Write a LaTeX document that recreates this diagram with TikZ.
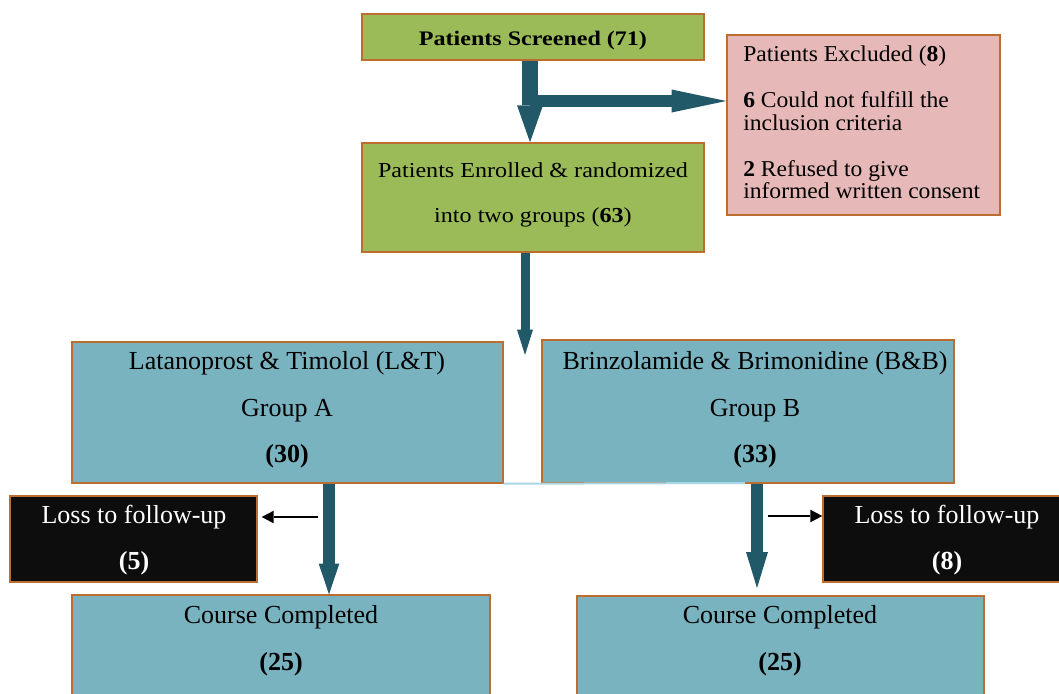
\documentclass[tikz,border=0pt]{standalone}
\usepackage{fontspec}
\setmainfont{Liberation Serif}
\usetikzlibrary{arrows.meta,fit}
\definecolor{bord}{HTML}{BC6E30}
\definecolor{grn}{HTML}{9BBB59}
\definecolor{pnk}{HTML}{E6B9B8}
\definecolor{tealbox}{HTML}{79B3BF}
\definecolor{darkteal}{HTML}{215968}
\definecolor{lblue}{HTML}{A9D6E3}
\definecolor{nearblack}{HTML}{0D0D0D}
\begin{document}
\begin{tikzpicture}[x=0.75pt,y=-0.75pt,
  box/.style={draw=bord,line width=1.1pt,rectangle,inner sep=0pt},
  greenbox/.style={box,fill=grn},
  pinkbox/.style={box,fill=pnk},
  bluebox/.style={box,fill=tealbox},
  blackbox/.style={box,fill=nearblack},
  txt/.style={inner sep=0pt,anchor=base,font=\fontsize{19.5}{22}\selectfont},
  toptxt/.style={inner sep=0pt,anchor=base,font=\fontsize{16}{18}\selectfont,xscale=1.13},
  extxt/.style={inner sep=0pt,anchor=base west,font=\fontsize{17}{20}\selectfont,xscale=1.04},
  whitetxt/.style={txt,text=white},
  bigarr/.style={draw=darkteal,line width=12pt,-{Triangle[width=19.5pt,length=27.75pt,line width=0pt,fill=darkteal]}},
  brarr/.style={draw=darkteal,line width=9pt,-{Triangle[width=17.25pt,length=41pt,line width=0pt,fill=darkteal]}},
  midarr/.style={draw=darkteal,line width=6.75pt,-{Triangle[width=12pt,length=19pt,line width=0pt,fill=darkteal]}},
  lowarr/.style={draw=darkteal,line width=9pt,-{Triangle[width=15.5pt,length=23pt,line width=0pt,fill=darkteal]}},
  lowarrb/.style={draw=darkteal,line width=9pt,-{Triangle[width=16.5pt,length=27pt,line width=0pt,fill=darkteal]}},
  thinarr/.style={draw=black,line width=1.9pt,-{Triangle[width=9.5pt,length=9pt,line width=0pt]}},
]
\useasboundingbox (0,0) rectangle (1059,693);
\clip (0,0) rectangle (1059,693);

% boxes
\node[greenbox,fit={(362,14) (704,60)}] (scr) {};
\node[pinkbox,fit={(727,35) (1000,215)}] (exc) {};
\node[greenbox,fit={(362,143) (704,252)}] (enr) {};
\node[bluebox,fit={(72,342) (503,483)}] (ga) {};
\node[bluebox,fit={(542,340) (954,483)}] (gb) {};
\node[blackbox,fit={(10,496) (257,582)}] (la) {};
\node[blackbox,fit={(823,496) (1070,582)}] (lb) {};
\node[bluebox,fit={(72,595) (490,710)}] (ca) {};
\node[bluebox,fit={(577,596) (984,710)}] (cb) {};

% texts
\node[toptxt,font=\fontsize{15.5}{18}\selectfont\bfseries,xscale=1.03] (t1) at (533,45) {Patients Screened (71)};
\node[extxt] (t2) at (743,61) {Patients Excluded (\textbf{8})};
\node[extxt] (t3) at (743,107) {\textbf{6} Could not fulfill the};
\node[extxt] (t4) at (743,130) {inclusion criteria};
\node[extxt] (t5) at (743,176) {\textbf{2} Refused to give};
\node[extxt] (t6) at (743,198) {informed written consent};
\node[toptxt] (t7) at (533,177) {Patients Enrolled \& randomized};
\node[toptxt] (t8) at (533,222) {into two groups (\textbf{63})};
\node[txt] (t9) at (287,369) {Latanoprost \& Timolol (L\&T)};
\node[txt] (t10) at (287,416) {Group A};
\node[txt] (t11) at (287,462) {\textbf{(30)}};
\node[txt] (t12) at (755,369) {Brinzolamide \& Brimonidine (B\&B)};
\node[txt] (t13) at (755,416) {Group B};
\node[txt] (t14) at (755,462) {\textbf{(33)}};
\node[whitetxt] (t15) at (134,523) {Loss to follow-up};
\node[whitetxt] (t16) at (134,569) {\textbf{(5)}};
\node[whitetxt] (t17) at (947,523) {Loss to follow-up};
\node[whitetxt] (t18) at (947,569) {\textbf{(8)}};
\node[txt] (t19) at (281,623) {Course Completed};
\node[txt] (t20) at (281,670) {\textbf{(25)}};
\node[txt] (t21) at (780,623) {Course Completed};
\node[txt] (t22) at (780,670) {\textbf{(25)}};

% helper coordinates
\coordinate (xa) at (530,0);
\coordinate (br) at (530,101);
\coordinate (xm) at (525,0);
\coordinate (mtip) at (525,355);
\coordinate (xga) at (329,0);
\coordinate (xgb) at (757,0);
\coordinate (gbtip) at (757,588);
\coordinate (lineend) at (745,483);
\coordinate (lastart) at (318,517);
\coordinate (lbstart) at (768,516);

% connectors
\draw[lblue,line width=1.5pt] (ga.south east) -- (lineend);
\draw[brarr] (br) -- (br -| exc.west);
\draw[bigarr] (scr.south -| xa) -- (enr.north -| xa);
\draw[midarr] (enr.south -| xm) -- (mtip);
\draw[lowarr] (ga.south -| xga) -- (ca.north -| xga);
\draw[lowarrb] (gb.south -| xgb) -- (gbtip);
\draw[thinarr,shorten >=3pt] (lastart) -- (lastart -| la.east);
\draw[thinarr] (lbstart) -- (lbstart -| lb.west);
\end{tikzpicture}
\end{document}
